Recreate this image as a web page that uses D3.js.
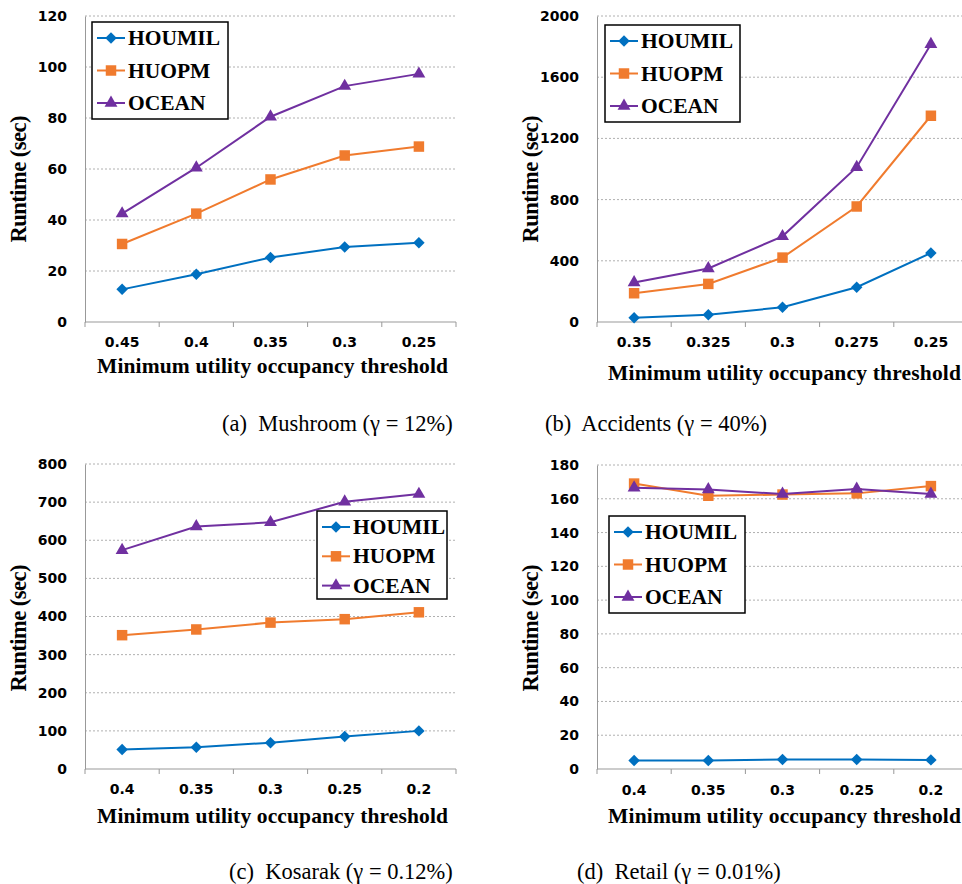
<!DOCTYPE html>
<html>
<head>
<meta charset="utf-8">
<script src="https://cdn.jsdelivr.net/npm/d3@7"></script>
<style>
  body { margin: 0; background: #fff; }
  svg { display: block; }
  .tick text { font-family: "DejaVu Sans", sans-serif; font-weight: bold; font-size: 14px; fill: #000; }
  .title { font-family: "Liberation Serif", serif; font-weight: bold; font-size: 21.5px; }
  .ytitle { font-size: 22.5px; }
  .legend text { font-family: "Liberation Serif", serif; font-weight: bold; font-size: 21.5px; }
  .caption { font-family: "Liberation Serif", serif; font-size: 22.5px; }
</style>
</head>
<body>
<div id="chart"></div>
<script>
// data
var seriesNames = ["HOUMIL", "HUOPM", "OCEAN"]

var mushroomX = ["0.45", "0.4", "0.35", "0.3", "0.25"]
var mushroomHOUMIL = [12.8, 18.7, 25.3, 29.4, 31.1]
var mushroomHUOPM = [30.6, 42.5, 55.9, 65.3, 68.8]
var mushroomOCEAN = [42.5, 60.5, 80.5, 92.5, 97.3]
var mushroomTicks = [0, 20, 40, 60, 80, 100, 120]

var accidentsX = ["0.35", "0.325", "0.3", "0.275", "0.25"]
var accidentsHOUMIL = [28, 48, 96, 227, 451]
var accidentsHUOPM = [188, 249, 421, 755, 1348]
var accidentsOCEAN = [258, 350, 560, 1012, 1815]
var accidentsTicks = [0, 400, 800, 1200, 1600, 2000]

var kosarakX = ["0.4", "0.35", "0.3", "0.25", "0.2"]
var kosarakHOUMIL = [51, 57, 69, 85, 100]
var kosarakHUOPM = [351, 366, 384, 393, 411]
var kosarakOCEAN = [574, 636, 647, 701, 721]
var kosarakTicks = [0, 100, 200, 300, 400, 500, 600, 700, 800]

var retailX = ["0.4", "0.35", "0.3", "0.25", "0.2"]
var retailHOUMIL = [5.0, 5.0, 5.6, 5.6, 5.4]
var retailHUOPM = [169, 161.8, 162.5, 163.2, 167.5]
var retailOCEAN = [166.5, 165.5, 162.8, 165.8, 162.8]
var retailTicks = [0, 20, 40, 60, 80, 100, 120, 140, 160, 180]

var captions = ["(a)  Mushroom (\u03b3 = 12%)", "(b)  Accidents (\u03b3 = 40%)",
                "(c)  Kosarak (\u03b3 = 0.12%)", "(d)  Retail (\u03b3 = 0.01%)"]

var colors = ["#0070C0", "#F07B2E", "#7030A0"]

// diamond = square turned 45 degrees, as in the original
function marker(k) {
  if (k == 0) return {d: d3.symbol().type(d3.symbolSquare).size(66)(), rot: 45}
  if (k == 1) return {d: d3.symbol().type(d3.symbolSquare).size(110)(), rot: 0}
  return {d: d3.symbol().type(d3.symbolTriangle).size(72)(), rot: 0}
}

var panels = [
  { x: mushroomX, s: [mushroomHOUMIL, mushroomHUOPM, mushroomOCEAN], ticks: mushroomTicks,
    left: 85, top: 16, bottom: 322, ytx: 26, yty: 179, xlab: 347, xt: 373,
    leg: {x: 92, y: 22, w: 136, h: 97, dy: 32.5}, cap: {x: 222, y: 431} },
  { x: accidentsX, s: [accidentsHOUMIL, accidentsHUOPM, accidentsOCEAN], ticks: accidentsTicks,
    left: 597, top: 16, bottom: 322, ytx: 538, yty: 179, xlab: 347, xt: 380,
    leg: {x: 605, y: 25, w: 135, h: 97, dy: 32.5}, cap: {x: 545, y: 431} },
  { x: kosarakX, s: [kosarakHOUMIL, kosarakHUOPM, kosarakOCEAN], ticks: kosarakTicks,
    left: 85, top: 464, bottom: 769, ytx: 26, yty: 628, xlab: 794, xt: 823,
    leg: {x: 317, y: 511, w: 130, h: 88, dy: 29.3}, cap: {x: 229, y: 879} },
  { x: retailX, s: [retailHOUMIL, retailHUOPM, retailOCEAN], ticks: retailTicks,
    left: 597, top: 465, bottom: 769, ytx: 538, yty: 628, xlab: 795, xt: 823,
    leg: {x: 609, y: 516, w: 136, h: 97, dy: 32.5}, cap: {x: 577, y: 879} }
]

var plotWidth = 371

var svg = d3.select("#chart")
  .append("svg")
  .attr("width", 962)
  .attr("height", 884)

panels.forEach(function(p, i) {
  var g = svg.append("g")

  var xScale = d3.scaleBand().domain(p.x).range([p.left, p.left + plotWidth])
  var yScale = d3.scaleLinear().domain([0, d3.max(p.ticks)]).range([p.bottom, p.top])
  var right = p.left + plotWidth

  // gridlines
  g.selectAll(".grid")
    .data(p.ticks.slice(1))
    .enter().append("line")
    .attr("x1", p.left).attr("x2", right)
    .attr("y1", d => yScale(d)).attr("y2", d => yScale(d))
    .attr("stroke", "#b0b0b0")
    .attr("stroke-dasharray", "2,2")
    .attr("stroke-width", 1)

  // y axis
  var yAxis = d3.axisLeft(yScale).tickValues(p.ticks).tickSize(0).tickPadding(18)
    .tickFormat(d3.format("d"))
  g.append("g")
    .attr("transform", "translate(" + p.left + ",0)")
    .call(yAxis)
    .call(a => a.select(".domain").attr("stroke", "#999"))

  // x axis: labels at band centres, ticks at band edges
  var xAxis = d3.axisBottom(xScale).tickSize(0).tickPadding(0)
  var xg = g.append("g")
    .attr("transform", "translate(0," + p.bottom + ")")
    .call(xAxis)
  xg.select(".domain").remove()
  xg.selectAll(".tick text").attr("dy", null).attr("y", p.xlab - p.bottom)

  g.append("line")
    .attr("x1", p.left).attr("x2", right)
    .attr("y1", p.bottom).attr("y2", p.bottom)
    .attr("stroke", "#999")
  g.selectAll(".xtick")
    .data(d3.range(p.x.length + 1))
    .enter().append("line")
    .attr("x1", d => p.left + d * xScale.step())
    .attr("x2", d => p.left + d * xScale.step())
    .attr("y1", p.bottom).attr("y2", p.bottom + 5)
    .attr("stroke", "#999")

  // axis titles
  g.append("text")
    .attr("class", "title")
    .attr("x", i % 2 == 0 ? 97 : 608)
    .attr("y", p.xt)
    .attr("textLength", i % 2 == 0 ? 351 : 353)
    .attr("lengthAdjust", "spacing")
    .text("Minimum utility occupancy threshold")

  g.append("text")
    .attr("class", "title ytitle")
    .attr("text-anchor", "middle")
    .attr("textLength", 127)
    .attr("lengthAdjust", "spacing")
    .attr("transform", "translate(" + p.ytx + "," + p.yty + ") rotate(-90)")
    .text("Runtime (sec)")

  // lines and markers
  var line = d3.line()
    .x((d, j) => xScale(p.x[j]) + xScale.bandwidth() / 2)
    .y(d => yScale(d))

  p.s.forEach(function(values, k) {
    g.append("path")
      .datum(values)
      .attr("d", line)
      .attr("fill", "none")
      .attr("stroke", colors[k])
      .attr("stroke-width", 2)

    var m = marker(k)
    g.selectAll(".m" + k)
      .data(values)
      .enter().append("path")
      .attr("d", m.d)
      .attr("transform", (d, j) => "translate(" + (xScale(p.x[j]) + xScale.bandwidth() / 2) + "," + yScale(d) + ") rotate(" + m.rot + ")")
      .attr("fill", colors[k])
  })

  // legend
  var leg = g.append("g").attr("class", "legend")
    .attr("transform", "translate(" + p.leg.x + "," + p.leg.y + ")")
  leg.append("rect")
    .attr("width", p.leg.w).attr("height", p.leg.h)
    .attr("fill", "#fff").attr("stroke", "#000").attr("stroke-width", 1.5)
  seriesNames.forEach(function(name, k) {
    var cy = 16 + k * p.leg.dy
    var m = marker(k)
    leg.append("line")
      .attr("x1", 5).attr("x2", 33)
      .attr("y1", cy).attr("y2", cy)
      .attr("stroke", colors[k]).attr("stroke-width", 2)
    leg.append("path")
      .attr("d", m.d)
      .attr("transform", "translate(19," + cy + ") rotate(" + m.rot + ")")
      .attr("fill", colors[k])
    leg.append("text")
      .attr("x", 36).attr("y", cy + 7)
      .text(name)
  })

  // caption
  svg.append("text")
    .attr("class", "caption")
    .attr("x", p.cap.x).attr("y", p.cap.y)
    .attr("xml:space", "preserve")
    .style("white-space", "pre")
    .text(captions[i])
})
</script>
</body>
</html>
